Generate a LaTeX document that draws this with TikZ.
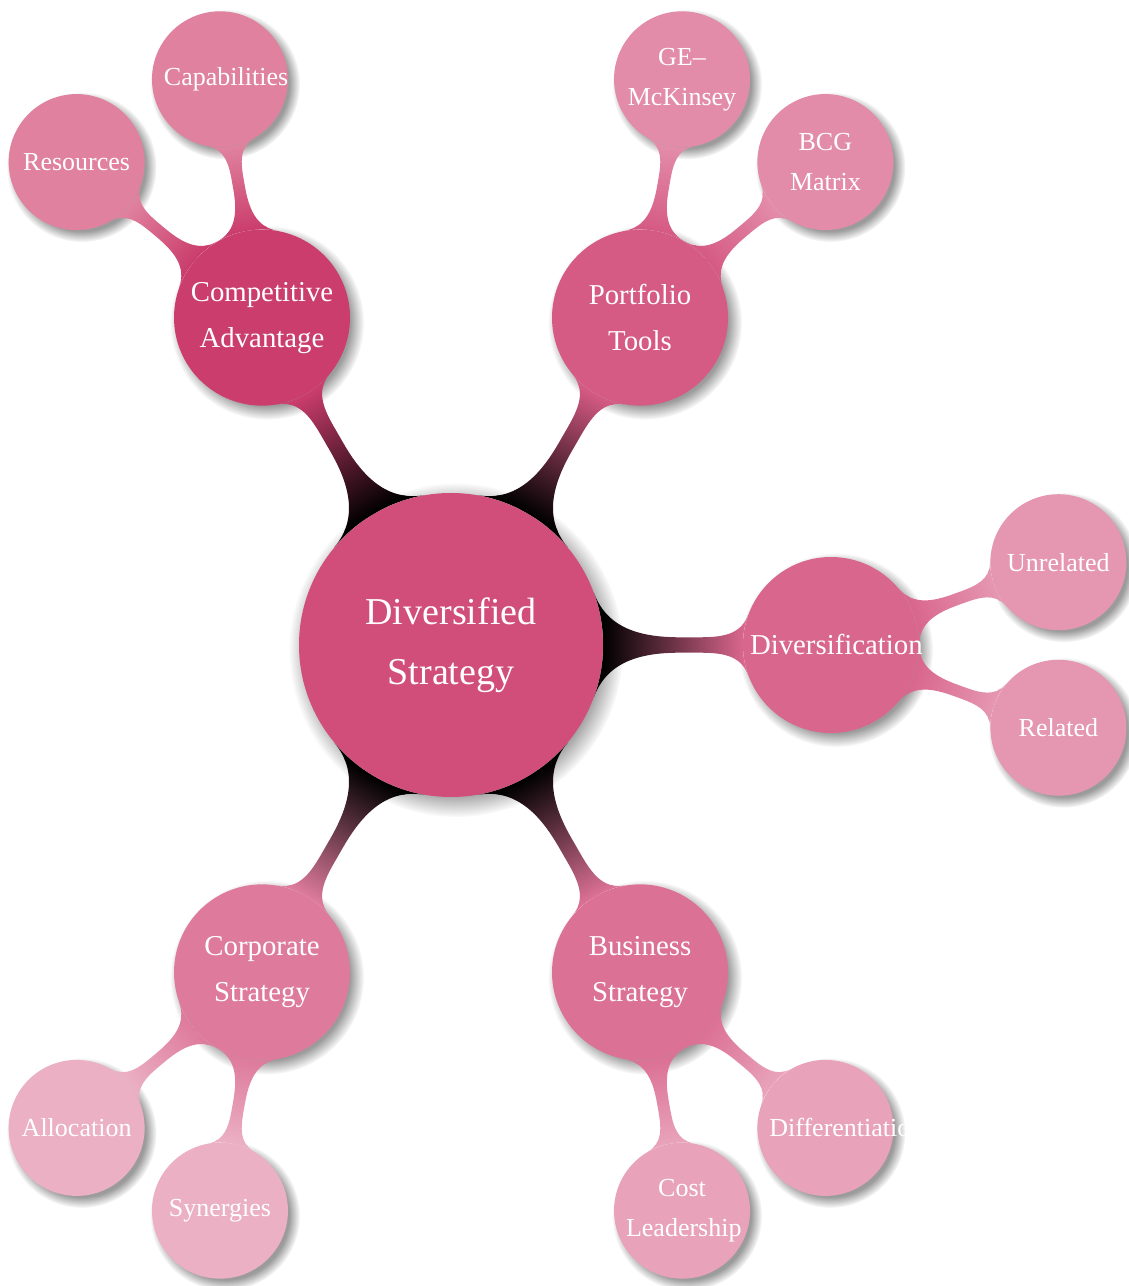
\documentclass[tikz,border=0pt]{standalone}
\usepackage{fontspec}
\setmainfont{Liberation Serif}
\usetikzlibrary{mindmap,fadings,shadows}

% palette
\definecolor{rootfill}{HTML}{D14E7A}
\definecolor{cAdv}{HTML}{CA3D6C}
\definecolor{cPort}{HTML}{D55A84}
\definecolor{cDiv}{HTML}{D9668D}
\definecolor{cBus}{HTML}{DC7196}
\definecolor{cCorp}{HTML}{DE7B9C}
\definecolor{gAdv}{HTML}{E0829F}
\definecolor{gPort}{HTML}{E38CA9}
\definecolor{gDiv}{HTML}{E597B1}
\definecolor{gBus}{HTML}{E8A3BA}
\definecolor{gCorp}{HTML}{EBB0C4}

\pgfdeclarelayer{shadowlayer}
\pgfdeclarelayer{barlayer}
\pgfsetlayers{shadowlayer,barlayer,main}

\tikzset{
  conceptbase/.style={circle, inner sep=0pt, text=white, align=center,
    execute at begin node={\hyphenpenalty=10000 \exhyphenpenalty=10000}},
  rootconcept/.style={conceptbase, minimum size=304pt, text width=240pt,
    font=\fontsize{38}{60}\selectfont},
  mainconcept/.style={conceptbase, minimum size=176pt, text width=162pt,
    inner sep=-1.5pt, font=\fontsize{28.8}{46}\selectfont},
  subconcept/.style={conceptbase, minimum size=136pt, text width=112pt,
    font=\fontsize{26}{40}\selectfont},
  softshadow/.style={fill=black!60, fill opacity=.65,
    path fading=circle with fuzzy edge 15 percent},
  mainbar/.style={line width=16pt},
  subbar/.style={line width=10pt},
}

\begin{document}
\begin{tikzpicture}[x=1pt, y=1pt]
\useasboundingbox (0,0) rectangle (1128,1286);

% centre
\node[rootconcept, fill=rootfill] (root) at (451,641) {Diversified\\Strategy};

% first ring
\node[mainconcept, fill=cAdv]  (adv)  at ([shift={(120:378pt)}]root.center) {Competitive\\Advantage};
\node[mainconcept, fill=cPort] (port) at ([shift={(60:378pt)}]root.center)  {Portfolio\\Tools};
\node[mainconcept, fill=cDiv]  (div)  at ([shift={(0:380pt)}]root.center)   {Diversification};
\node[mainconcept, fill=cBus]  (bus)  at ([shift={(-60:378pt)}]root.center) {Business\\Strategy};
\node[mainconcept, fill=cCorp] (corp) at ([shift={(-120:378pt)}]root.center) {Corporate\\Strategy};

% second ring
\node[subconcept, fill=gAdv]  (cap)  at ([shift={(100:242pt)}]adv.center)  {Capabilities};
\node[subconcept, fill=gAdv]  (res)  at ([shift={(140:242pt)}]adv.center)  {Resources};
\node[subconcept, fill=gPort] (ge)   at ([shift={(80:242pt)}]port.center)  {GE--\\McKinsey};
\node[subconcept, fill=gPort] (bcg)  at ([shift={(40:242pt)}]port.center)  {BCG\\Matrix};
\node[subconcept, fill=gDiv]  (unr)  at ([shift={(20:242pt)}]div.center)   {Unrelated};
\node[subconcept, fill=gDiv]  (rel)  at ([shift={(-20:242pt)}]div.center)  {Related};
\node[subconcept, fill=gBus]  (diff) at ([shift={(-40:242pt)}]bus.center)  {Differentiation};
\node[subconcept, fill=gBus]  (cost) at ([shift={(-80:242pt)}]bus.center)  {Cost\\Leadership};
\node[subconcept, fill=gCorp] (syn)  at ([shift={(-100:242pt)}]corp.center) {Synergies};
\node[subconcept, fill=gCorp] (alloc) at ([shift={(-140:242pt)}]corp.center) {Allocation};

% shadows
\begin{pgfonlayer}{shadowlayer}
  \fill[softshadow] ([shift={(5pt,-5pt)}]root.center) circle (167pt);
  \foreach \n in {adv,port,div,bus,corp}
    \fill[softshadow] ([shift={(5pt,-5pt)}]\n.center) circle (97pt);
  \foreach \n in {cap,res,ge,bcg,unr,rel,diff,cost,syn,alloc}
    \fill[softshadow] ([shift={(5pt,-5pt)}]\n.center) circle (75pt);
\end{pgfonlayer}

% connection bars
\begin{pgfonlayer}{barlayer}
  \path[mainbar] (root) to[circle connection bar switch color=from (black) to (cAdv)]  (adv);
  \path[mainbar] (root) to[circle connection bar switch color=from (black) to (cPort)] (port);
  \path[mainbar] (root) to[circle connection bar switch color=from (black) to (cDiv)]  (div);
  \path[mainbar] (root) to[circle connection bar switch color=from (black) to (cBus)]  (bus);
  \path[mainbar] (root) to[circle connection bar switch color=from (black) to (cCorp)] (corp);

  \path[subbar] (adv)  to[circle connection bar switch color=from (cAdv) to (gAdv)]   (cap);
  \path[subbar] (adv)  to[circle connection bar switch color=from (cAdv) to (gAdv)]   (res);
  \path[subbar] (port) to[circle connection bar switch color=from (cPort) to (gPort)] (ge);
  \path[subbar] (port) to[circle connection bar switch color=from (cPort) to (gPort)] (bcg);
  \path[subbar] (div)  to[circle connection bar switch color=from (cDiv) to (gDiv)]   (unr);
  \path[subbar] (div)  to[circle connection bar switch color=from (cDiv) to (gDiv)]   (rel);
  \path[subbar] (bus)  to[circle connection bar switch color=from (cBus) to (gBus)]   (diff);
  \path[subbar] (bus)  to[circle connection bar switch color=from (cBus) to (gBus)]   (cost);
  \path[subbar] (corp) to[circle connection bar switch color=from (cCorp) to (gCorp)] (syn);
  \path[subbar] (corp) to[circle connection bar switch color=from (cCorp) to (gCorp)] (alloc);
\end{pgfonlayer}
\end{tikzpicture}
\end{document}
